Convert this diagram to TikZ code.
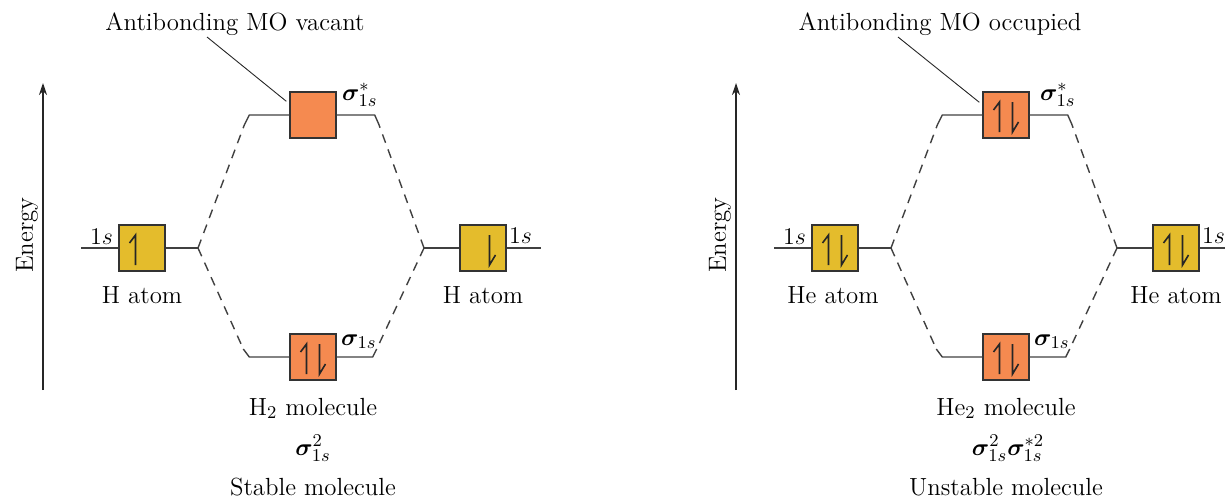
\documentclass[tikz,border=0pt]{standalone}
\usepackage{bm}
\usepackage{tikz}
\usetikzlibrary{arrows.meta}
\definecolor{aoyellow}{HTML}{E4BC2C}
\definecolor{moorange}{HTML}{F58A50}

\begin{document}
\begin{tikzpicture}[x=0.5pt,y=-0.5pt,
  orb/.style={draw=black!80,line width=0.7pt,minimum size=23pt,inner sep=0pt},
  aobox/.style={orb,fill=aoyellow},
  mobox/.style={orb,fill=moorange},
  level/.style={draw=black!75,line width=0.7pt},
  corr/.style={level,dash pattern=on 4.5pt off 3.5pt},
  spin/.style={draw=black!85,line width=0.8pt},
  txt/.style={inner sep=0pt,font=\fontsize{12.4}{14}\selectfont},
  callout/.style={draw=black!85,line width=0.45pt},
  earrow/.style={draw=black!85,line width=0.6pt,-{Stealth[length=6pt,width=4pt]}}]
\useasboundingbox (0,0) rectangle (1225,498);

% H2
\coordinate (Lebot) at (43,390);
\coordinate (Letop) at (43,83);
\draw[earrow] (Lebot) -- (Letop);
\node[txt,rotate=90] (Lenergy) at (27,235) {Energy};
\node[aobox] (LA) at (142,248) {};
\node[aobox] (LC) at (483,248) {};
\node[mobox] (LS) at (313,115) {};
\node[mobox] (LB) at (313,357) {};
\coordinate (LFa) at (198,248);
\coordinate (LFb) at (424,248);
\draw[level] (LA.west) -- ++(-37,0);
\draw[level] (LA.east) -- (LFa);
\draw[level] (LC.west) -- (LFb);
\draw[level] (LC.east) -- ++(34,0);
\draw[level] (LS.west) -- ++(-40,0) -- ++(-5,10) coordinate (LSa);
\draw[level] (LS.east) -- ++(38,0) -- ++(4,9) coordinate (LSb);
\draw[level] (LB.west) -- ++(-40,0) -- ++(-6,-8) coordinate (LBa);
\draw[level] (LB.east) -- ++(36,0) -- ++(4,-8) coordinate (LBb);
\draw[corr] (LFa) -- (LSa);
\draw[corr] (LFa) -- (LBa);
\draw[corr] (LFb) -- (LSb);
\draw[corr] (LFb) -- (LBb);
\draw[spin] ([shift={(-6.5,17)}]LA.center) -- ++(0,-30) -- ++(-6,8);
\draw[spin] ([shift={(6.5,-13)}]LC.center) -- ++(0,30) -- ++(6,-10);
\draw[spin] ([shift={(-6.5,17)}]LB.center) -- ++(0,-30) -- ++(-6,8);
\draw[spin] ([shift={(6.5,-13)}]LB.center) -- ++(0,30) -- ++(6,-10);
\node[txt,anchor=base east] (LAs) at ([shift={(-5,-4)}]LA.west) {$1s$};
\node[txt,anchor=base west] (LCs) at ([shift={(2,-5)}]LC.east) {$1s$};
\node[txt,anchor=base west] (LSs) at ([shift={(5,-15)}]LS.east) {$\bm{\sigma}_{1s}^{*}$};
\node[txt,anchor=base west] (LBs) at ([shift={(4,-12)}]LB.east) {$\bm{\sigma}_{1s}$};
\node[txt,anchor=base] (LAn) at ([shift={(0,55)}]LA.center) {H atom};
\node[txt,anchor=base] (LCn) at ([shift={(0,55)}]LC.center) {H atom};
\node[txt,anchor=base] (Lmol) at ([shift={(0,58)}]LB.center) {H$_2$ molecule};
\node[txt,anchor=base] (Lconf) at ([shift={(0,98)}]LB.center) {$\bm{\sigma}_{1s}^{2}$};
\node[txt,anchor=base] (Lstab) at ([shift={(0,138)}]LB.center) {Stable molecule};
\node[txt,anchor=base] (Ltitle) at (235,30) {Antibonding MO vacant};
\draw[callout] ([shift={(-28,7)}]Ltitle.base) -- ([shift={(-3,10)}]LS.north west);

% He2
\begin{scope}[xshift=346.5pt]
\coordinate (Rebot) at (43,390);
\coordinate (Retop) at (43,83);
\draw[earrow] (Rebot) -- (Retop);
\node[txt,rotate=90] (Renergy) at (27,235) {Energy};
\node[aobox] (RA) at (142,248) {};
\node[aobox] (RC) at (483,248) {};
\node[mobox] (RS) at (313,115) {};
\node[mobox] (RB) at (313,357) {};
\coordinate (RFa) at (198,248);
\coordinate (RFb) at (424,248);
\draw[level] (RA.west) -- ++(-37,0);
\draw[level] (RA.east) -- (RFa);
\draw[level] (RC.west) -- (RFb);
\draw[level] (RC.east) -- ++(34,0);
\draw[level] (RS.west) -- ++(-40,0) -- ++(-5,10) coordinate (RSa);
\draw[level] (RS.east) -- ++(38,0) -- ++(4,9) coordinate (RSb);
\draw[level] (RB.west) -- ++(-40,0) -- ++(-6,-8) coordinate (RBa);
\draw[level] (RB.east) -- ++(36,0) -- ++(4,-8) coordinate (RBb);
\draw[corr] (RFa) -- (RSa);
\draw[corr] (RFa) -- (RBa);
\draw[corr] (RFb) -- (RSb);
\draw[corr] (RFb) -- (RBb);
\draw[spin] ([shift={(-6.5,17)}]RA.center) -- ++(0,-30) -- ++(-6,8);
\draw[spin] ([shift={(6.5,-13)}]RA.center) -- ++(0,30) -- ++(6,-10);
\draw[spin] ([shift={(-6.5,17)}]RC.center) -- ++(0,-30) -- ++(-6,8);
\draw[spin] ([shift={(6.5,-13)}]RC.center) -- ++(0,30) -- ++(6,-10);
\draw[spin] ([shift={(-6.5,17)}]RS.center) -- ++(0,-30) -- ++(-6,8);
\draw[spin] ([shift={(6.5,-13)}]RS.center) -- ++(0,30) -- ++(6,-10);
\draw[spin] ([shift={(-6.5,17)}]RB.center) -- ++(0,-30) -- ++(-6,8);
\draw[spin] ([shift={(6.5,-13)}]RB.center) -- ++(0,30) -- ++(6,-10);
\node[txt,anchor=base east] (RAs) at ([shift={(-5,-4)}]RA.west) {$1s$};
\node[txt,anchor=base west] (RCs) at ([shift={(2,-5)}]RC.east) {$1s$};
\node[txt,anchor=base west] (RSs) at ([shift={(10,-15)}]RS.east) {$\bm{\sigma}_{1s}^{*}$};
\node[txt,anchor=base west] (RBs) at ([shift={(4,-12)}]RB.east) {$\bm{\sigma}_{1s}$};
\node[txt,anchor=base] (RAn) at ([shift={(-2,55)}]RA.center) {He atom};
\node[txt,anchor=base] (RCn) at ([shift={(0,55)}]RC.center) {He atom};
\node[txt,anchor=base] (Rmol) at ([shift={(0,58)}]RB.center) {He$_2$ molecule};
\node[txt,anchor=base] (Rconf) at ([shift={(2,98)}]RB.center) {$\bm{\sigma}_{1s}^{2}\bm{\sigma}_{1s}^{*2}$};
\node[txt,anchor=base] (Rstab) at ([shift={(0,138)}]RB.center) {Unstable molecule};
\node[txt,anchor=base] (Rtitle) at (247,30) {Antibonding MO occupied};
\draw[callout] ([shift={(-42,7)}]Rtitle.base) -- ([shift={(-3,11)}]RS.north west);
\end{scope}
\end{tikzpicture}
\end{document}
